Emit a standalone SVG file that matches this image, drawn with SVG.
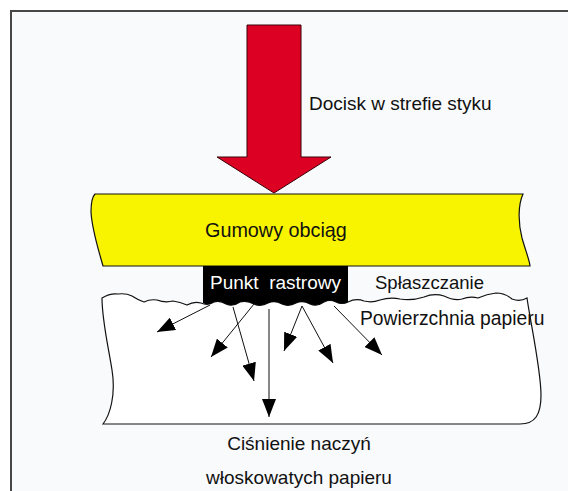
<svg xmlns="http://www.w3.org/2000/svg" width="568" height="491" viewBox="0 0 568 491">
  <style>
    .lbl { font-family: "Liberation Sans", Arial, Helvetica, sans-serif; font-size: 19px; fill: #111; }
    .conn { stroke: #111; stroke-width: 1; fill: none; marker-end: url(#ah); }
    .outline { stroke: #111; stroke-width: 1.2; }
  </style>
  <defs>
    <marker id="ah" markerUnits="userSpaceOnUse" markerWidth="18" markerHeight="14" refX="18" refY="7" orient="auto">
      <path d="M0,0 L18,7 L0,14 Z" fill="#000"/>
    </marker>
  </defs>

  <rect x="0" y="0" width="568" height="491" fill="#ffffff"/>
  <rect id="frame" x="11" y="11" width="600" height="600" fill="#f9fafc" stroke="#474747" stroke-width="2"/>

  <g id="force-arrow">
    <polygon points="247,25 301,25 301,157 331,157 274,193 217,157 247,157" fill="#dc0023" stroke="#3a0008" stroke-width="1"/>
    <text class="lbl" x="309" y="110">Docisk w strefie styku</text>
  </g>

  <g id="rubber-blanket">
    <path class="outline" d="M95,194 L523,194 C518,205 518,222 522,238 C526,252 530,262 530,266 L103,266 C98,248 92,230 91,212 C91,203 92,197 95,194 Z" fill="#f8f400"/>
    <text class="lbl" x="205" y="237" style="font-size:19.8px">Gumowy obciąg</text>
  </g>

  <g id="paper">
    <path class="outline" fill="#ffffff" d="M102,298 Q110,293 118,294 Q126,293 132,296 Q138,300 144,302 Q150,299 157,300 Q165,303 173,301 Q180,302 187,305 Q194,301 201,303 Q208,306 214,302 Q220,300 226,304 Q233,307 240,302 Q247,300 254,304 Q261,307 268,303 Q275,300 282,304 Q289,307 296,303 Q303,300 310,304 Q317,307 324,302 Q330,299 336,302 Q342,305 348,302 Q356,298 364,301 Q372,303 380,300 Q390,297 400,299 Q412,301 424,297 Q434,293 444,296 Q454,301 462,299 Q470,296 478,298 Q487,294 496,293 Q505,293 512,299 Q520,302 527,298 C530,320 541,370 541,395 C541,415 535,424 520,424 L103,424 C110,415 116,395 112,370 C108,345 102,320 102,298 Z"/>
  </g>

  <g id="halftone-dot">
    <path d="M203,266 L348,266 L348,302 Q342,305 336,302 Q330,299 324,302 Q317,307 310,304 Q303,300 296,303 Q289,307 282,304 Q275,300 268,303 Q261,307 254,304 Q247,300 240,302 Q233,307 226,304 Q220,300 214,302 Q208,306 203,303 Z" fill="#000"/>
    <text class="lbl" x="210" y="289" style="fill:#ffffff; white-space:pre" xml:space="preserve">Punkt  rastrowy</text>
  </g>

  <g id="labels">
    <text class="lbl" x="375" y="289" style="font-size:18.5px">Spłaszczanie</text>
    <text class="lbl" x="360" y="325" style="font-size:19.3px">Powierzchnia papieru</text>
    <text class="lbl" x="299" y="450" text-anchor="middle">Ciśnienie naczyń</text>
    <text class="lbl" x="299" y="484" text-anchor="middle">włoskowatych papieru</text>
  </g>

  <g id="connectors">
    <line class="conn" x1="210" y1="305" x2="157" y2="332"/>
    <line class="conn" x1="254" y1="304" x2="211" y2="357"/>
    <line class="conn" x1="233" y1="307" x2="254" y2="381"/>
    <line class="conn" x1="269" y1="309" x2="269" y2="417"/>
    <line class="conn" x1="302" y1="306" x2="284" y2="351"/>
    <line class="conn" x1="302" y1="306" x2="333" y2="363"/>
    <line class="conn" x1="334" y1="306" x2="382" y2="355"/>
  </g>
</svg>
